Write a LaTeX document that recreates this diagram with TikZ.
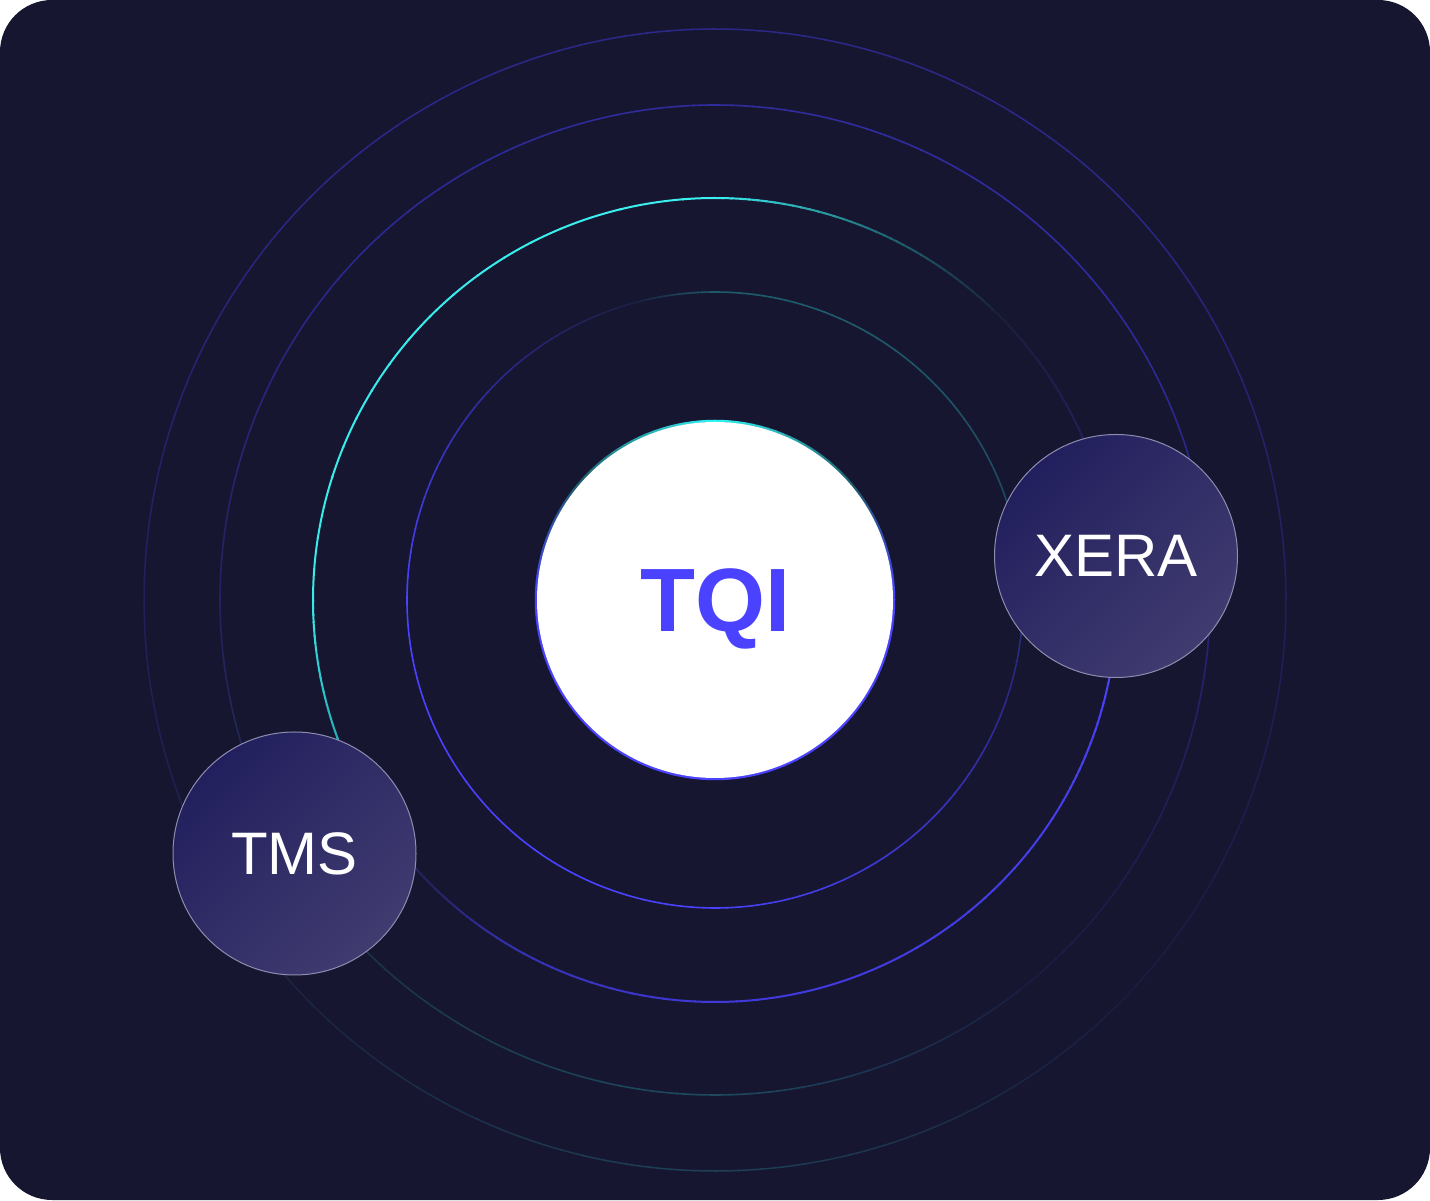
\documentclass[tikz,border=0pt]{standalone}
\usepackage{fontspec}
\setmainfont{Liberation Sans}
\newfontfamily\tqifont{Liberation Sans Bold}
\definecolor{bgc}{HTML}{161631}
\definecolor{tqiblue}{HTML}{4A42FF}
\definecolor{orbA}{HTML}{221F5E}
\definecolor{orbB}{HTML}{403C70}
\definecolor{orbedge}{HTML}{8E8CB0}
\newcommand\gradarc[6]{%
  \definecolor{gaA}{HTML}{#4}\definecolor{gaB}{HTML}{#5}%
  \foreach \k in {0,...,19}{%
    \pgfmathsetmacro\sa{#2+(#3-#2)*\k/20}%
    \pgfmathsetmacro\ea{#2+(#3-#2)*(\k+1)/20+0.25}%
    \pgfmathtruncatemacro\pc{100-100*(\k+0.5)/20}%
    \draw[line width=#6, color=gaA!\pc!gaB] (C) ++(\sa:#1) arc[start angle=\sa, end angle=\ea, radius=#1];
  }}
\newcommand\ring[3]{%
  \foreach \ang/\hx [count=\ii, remember=\ang as \pang (initially 0), remember=\hx as \phx (initially 000000)] in {#3}{%
    \ifnum\ii>1 \gradarc{#1}{\pang}{\ang}{\phx}{\hx}{#2}\fi}}
\tikzset{
  orb/.style={circle, draw=orbedge, line width=1pt, minimum size=243pt, inner sep=0pt,
    text=white, font=\fontsize{60}{60}\selectfont, text depth=0pt,
    top color=orbA, bottom color=orbB, shading angle=45},
  core/.style={circle, fill=white, minimum size=356pt, inner sep=0pt,
    text=tqiblue, font=\tqifont\fontsize{90}{90}\selectfont, text depth=0pt}
}
\begin{document}
\begin{tikzpicture}[x=1pt,y=1pt]
\useasboundingbox (0,0) rectangle (1430,1200);
\fill[white] (0,0) rectangle (1430,1200);
\fill[bgc, rounded corners=52pt] (0,0) rectangle (1430,1200);
\coordinate (C) at (715,600);
% outer ring
\ring{571}{1.5pt}{-90/1E4256,-45/1A1C3E,0/221F5C,45/2B2888,90/2C2888,135/2B2786,180/221F5C,225/1B2440,270/1E4256}
% second ring
\ring{495}{1.6pt}{-90/1E4A5E,-50/1A1C40,-20/221F58,0/28247A,45/302CA0,90/302C9C,135/2C2890,180/24215F,225/1C3246,270/1E4A5E}
% third ring
\ring{402}{2pt}{-90/4038D8,-30/453FEA,-10/4842F5,20/231F5E,45/1A1F3A,65/1E6672,90/3CF0F0,180/38EAEA,200/26B0B8,215/1E2A48,225/242260,240/3530B0,270/4038D8}
% fourth ring
\ring{308}{1.6pt}{-90/4A42FF,-45/3A34C0,-15/2A2680,20/1E4A5E,60/1E5A6A,90/1E5A6A,105/1A2040,125/26236E,150/3832B8,180/4A42FF,270/4A42FF}
% core border
\ring{179}{2.5pt}{-90/4A42FF,0/4A42FF,40/1E5A6A,90/30F5F5,140/1E5A6A,180/4A42FF,270/4A42FF}
\node[core] (tqi) at (C) {TQI};
\node[orb] (xera) at (1116,644) {XERA};
\node[orb] (tms) at (294.5,346.5) {TMS};
\end{tikzpicture}
\end{document}
